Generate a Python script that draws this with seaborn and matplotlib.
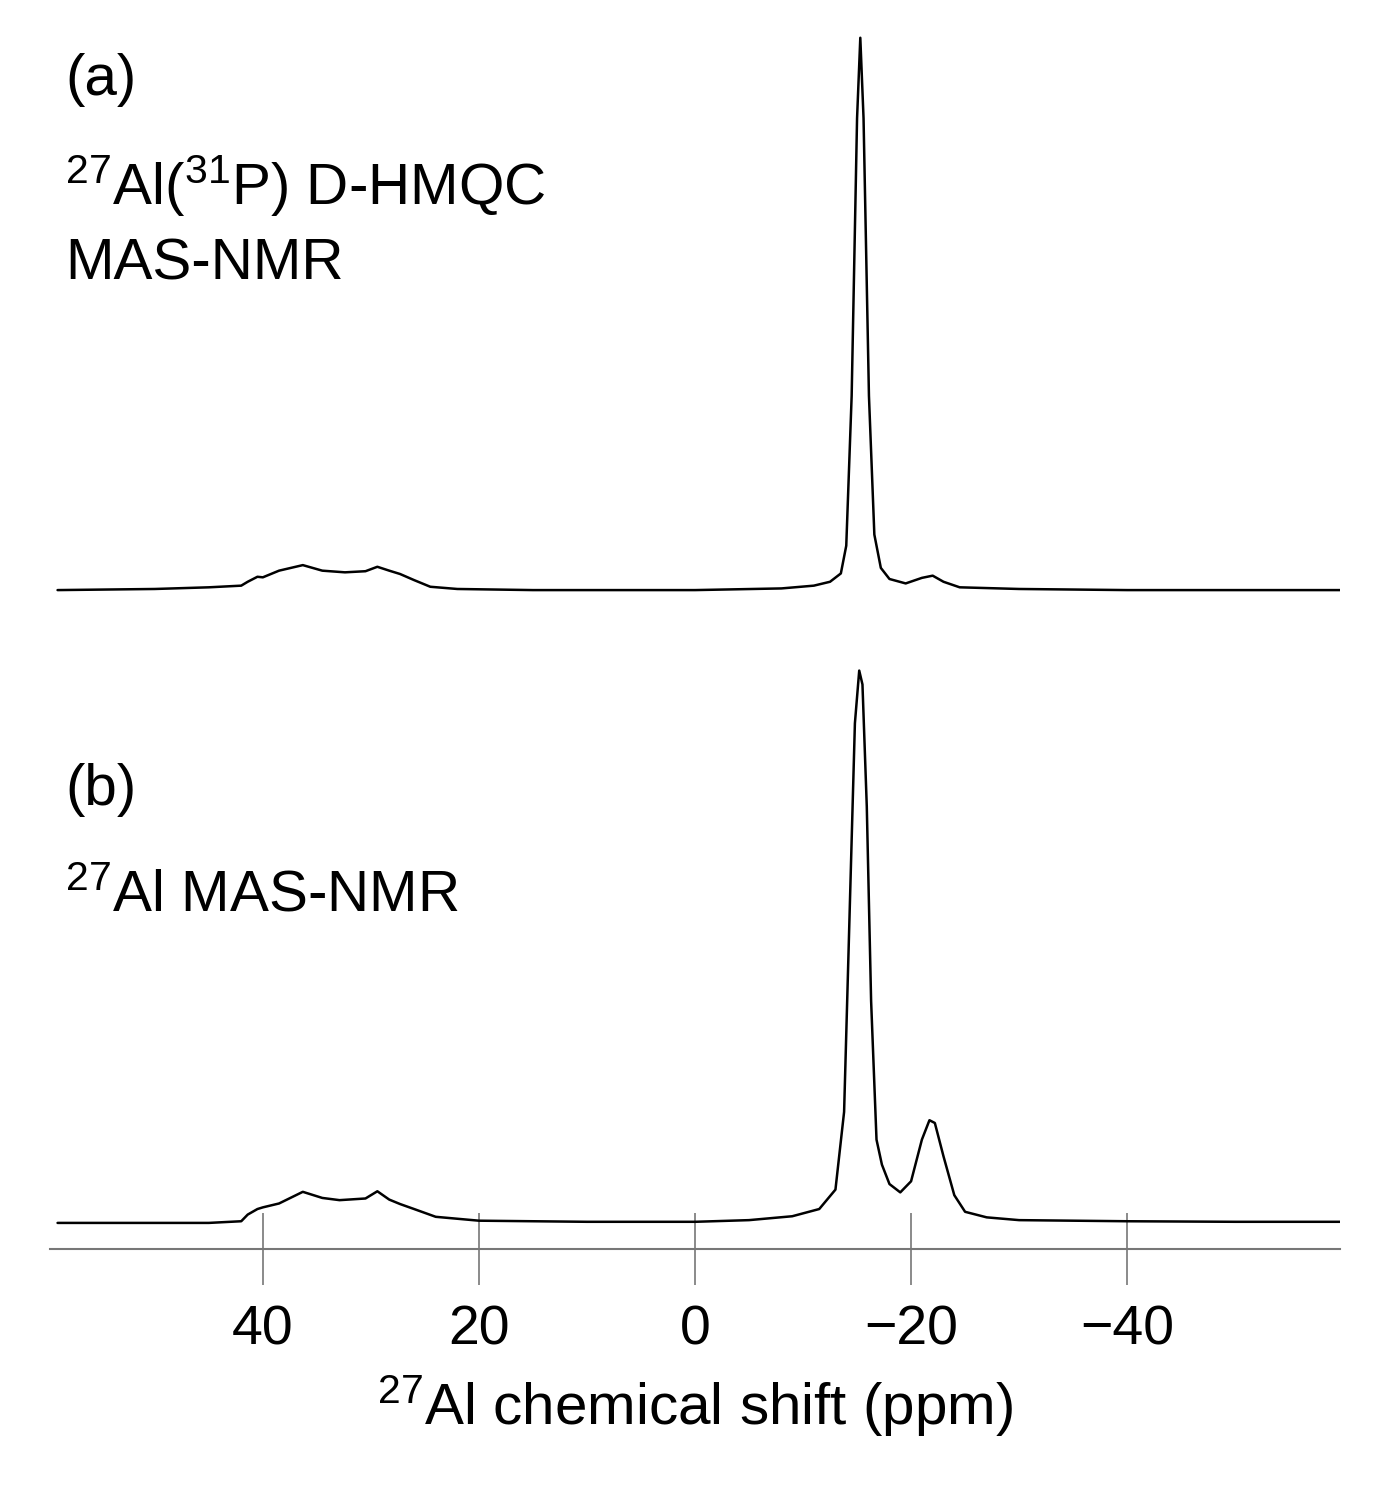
import matplotlib
matplotlib.use("Agg")
import matplotlib.pyplot as plt
import seaborn as sns
import numpy as np

sns.set_style("white")
plt.rcParams['font.family'] = ['Liberation Sans', 'DejaVu Sans']
plt.rcParams['mathtext.fontset'] = 'custom'
plt.rcParams['mathtext.rm'] = 'Liberation Sans'
plt.rcParams['mathtext.default'] = 'regular'
plt.rcParams['text.color'] = 'black'
plt.rcParams['axes.labelcolor'] = 'black'
plt.rcParams['xtick.color'] = 'black'

# Trace (a): 27Al(31P) D-HMQC, ppm vs normalized intensity
ppm_a = [59.0, 50.0, 45.0, 42.0, 41.4, 40.5, 40.0, 38.5, 36.3, 34.5, 32.4, 30.5, 29.4, 28.3, 27.3,
         26.0, 24.5, 22.0, 15.0, 5.0, 0.0, -8.0, -11.0, -12.5, -13.5, -14.0, -14.5, -15.0, -15.3,
         -15.6, -16.1, -16.6, -17.2, -18.0, -19.5, -21.0, -22.0, -23.0, -24.5, -30.0, -40.0, -50.0, -60.0]
int_a = [0.0, 0.002, 0.005, 0.008, 0.015, 0.024, 0.023, 0.035, 0.045, 0.035, 0.032, 0.034, 0.042,
         0.035, 0.029, 0.018, 0.006, 0.002, 0.0, 0.0, 0.0, 0.003, 0.008, 0.015, 0.03, 0.08, 0.35,
         0.85, 0.995, 0.85, 0.35, 0.1, 0.04, 0.02, 0.012, 0.022, 0.026, 0.015, 0.005, 0.002, 0.0, 0.0, 0.0]

# Trace (b): 27Al MAS-NMR
ppm_b = [59.0, 50.0, 45.0, 42.0, 41.4, 40.5, 40.0, 38.5, 36.3, 34.5, 32.9, 30.5, 29.4, 28.3, 27.3,
         26.0, 24.0, 20.0, 10.0, 0.0, -5.0, -9.0, -11.5, -13.0, -13.8, -14.3, -14.8, -15.2, -15.5,
         -15.9, -16.3, -16.8, -17.3, -18.0, -19.0, -20.0, -21.0, -21.7, -22.2, -23.0, -24.0, -25.0,
         -27.0, -30.0, -40.0, -50.0, -60.0]
int_b = [0.0, 0.0, 0.0, 0.003, 0.015, 0.025, 0.028, 0.035, 0.056, 0.045, 0.041, 0.044, 0.057, 0.042,
         0.034, 0.025, 0.011, 0.004, 0.002, 0.002, 0.005, 0.012, 0.025, 0.06, 0.2, 0.55, 0.9, 0.995,
         0.97, 0.75, 0.4, 0.15, 0.105, 0.07, 0.055, 0.075, 0.15, 0.185, 0.18, 0.12, 0.05, 0.02, 0.01,
         0.005, 0.003, 0.002, 0.002]

offset_a = 1.14

fig = plt.figure(figsize=(13.96, 14.96), dpi=100)
ax = fig.add_axes([50/1396, 1-1249/1496, 1290/1396, 1229/1496])
sns.lineplot(x=ppm_a, y=np.array(int_a) + offset_a, ax=ax, color='black', lw=1.8, sort=False, estimator=None)
sns.lineplot(x=ppm_b, y=int_b, ax=ax, color='black', lw=1.8, sort=False, estimator=None)

ax.set_xlim(59.7, -59.7)
ax.set_ylim(-0.047, 2.167)
for s in ['top', 'left', 'right']:
    ax.spines[s].set_visible(False)
ax.spines['bottom'].set_color('#777777')
ax.spines['bottom'].set_linewidth(1.5)
ax.set_yticks([])
ax.set_xticks([40, 20, 0, -20, -40])
ax.set_xticklabels(['40', '20', '0', '\u221220', '\u221240'])
ax.tick_params(axis='x', bottom=True, direction='in', length=26, width=1.2, color='#777777',
               labelcolor='black', labelsize=40, pad=14)
ax.xaxis.set_tick_params(which='major', direction='inout', length=52)
ax.set_xlabel('$^{27}$Al chemical shift (ppm)', fontsize=42, labelpad=12)

fs = 42
fig.text(65/1396, 1-95/1496, '(a)', fontsize=fs)
fig.text(65/1396, 1-205/1496, '$^{27}$Al($^{31}$P) D-HMQC', fontsize=fs)
fig.text(65/1396, 1-280/1496, 'MAS-NMR', fontsize=fs)
fig.text(65/1396, 1-805/1496, '(b)', fontsize=fs)
fig.text(65/1396, 1-912/1496, '$^{27}$Al MAS-NMR', fontsize=fs)

fig.savefig('out.png', dpi=100)
